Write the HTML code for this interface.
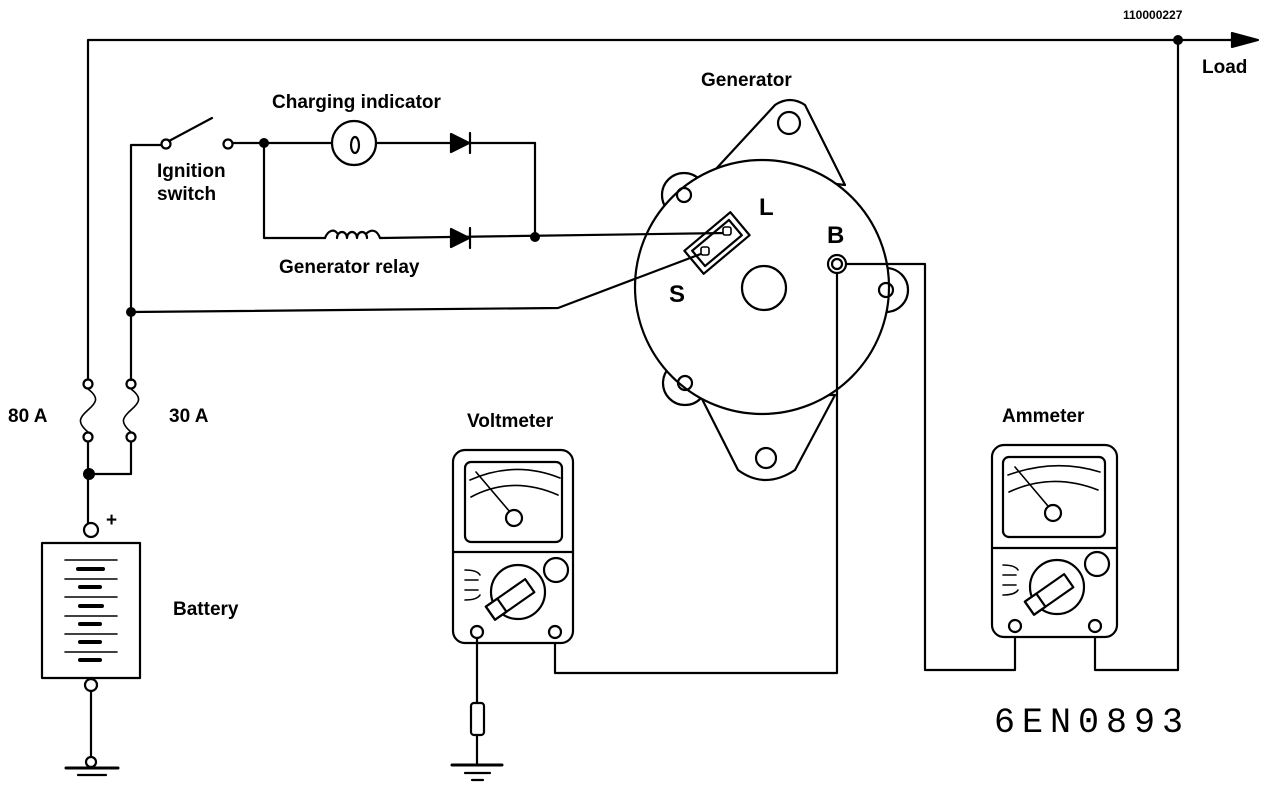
<!DOCTYPE html>
<html><head><meta charset="utf-8"><style>
html,body{margin:0;padding:0;background:#fff}
svg{display:block}
text{font-family:"Liberation Sans",Arial,sans-serif;font-weight:bold;fill:#000}
</style></head><body>
<svg width="1280" height="792" viewBox="0 0 1280 792" xmlns="http://www.w3.org/2000/svg">
<g fill="none" stroke="#000" stroke-width="2.2" stroke-linejoin="round" stroke-linecap="round">
<!-- generator -->
<path d="M715,170 L775,105 Q790,95 805,105 L845,185 Z" fill="#fff"/>
<circle cx="684" cy="195" r="22" fill="#fff"/>
<circle cx="685" cy="383" r="22" fill="#fff"/>
<circle cx="886" cy="290" r="22" fill="#fff"/>
<path d="M700,395 L738,470 Q765,490 795,470 L835,395 Z" fill="#fff"/>
<circle cx="762" cy="287" r="127" fill="#fff" stroke="none"/>
<circle cx="762" cy="287" r="127"/>
<circle cx="789" cy="123" r="11"/>
<circle cx="684" cy="195" r="7"/>
<circle cx="685" cy="383" r="7"/>
<circle cx="886" cy="290" r="7"/>
<circle cx="766" cy="458" r="10"/>
<circle cx="764" cy="288" r="22"/>
<g transform="translate(717,243) rotate(-40)">
<rect x="-30" y="-15" width="60" height="30" fill="#fff"/>
<rect x="-24" y="-10" width="48" height="20"/>
</g>

<!-- top wire -->
<polyline points="88,380 88,40 1240,40"/>
<polygon points="1232,33 1258,40 1232,47" fill="#000"/>
<line x1="1178" y1="40" x2="1178" y2="670"/>
<polyline points="1095,632 1095,670 1178,670"/>
<!-- fuses -->
<circle cx="88" cy="384" r="4.5" fill="#fff"/>
<circle cx="88" cy="437" r="4.5" fill="#fff"/>
<path d="M88,389 C100,398 96,403 88,410 C80,417 76,422 88,432" stroke-width="1.6"/>
<circle cx="131" cy="384" r="4.5" fill="#fff"/>
<circle cx="131" cy="437" r="4.5" fill="#fff"/>
<path d="M131,389 C143,398 139,403 131,410 C123,417 119,422 131,432" stroke-width="1.6"/>
<line x1="88" y1="442" x2="88" y2="525"/>
<polyline points="88,474 131,474 131,442"/>
<!-- switch -->
<polyline points="131,380 131,145 161,145"/>
<circle cx="166" cy="144" r="4.5" fill="#fff"/>
<line x1="169" y1="141" x2="212" y2="118"/>
<circle cx="228" cy="144" r="4.5" fill="#fff"/>
<line x1="233" y1="143" x2="332" y2="143"/>
<circle cx="354" cy="143" r="22" fill="#fff"/>
<ellipse cx="355" cy="145" rx="4" ry="8"/>
<line x1="376" y1="143" x2="535" y2="143"/>
<polygon points="451,134 469,143 451,152" fill="#000"/>
<line x1="470" y1="133" x2="470" y2="153"/>
<polyline points="535,143 535,237"/>
<polyline points="264,143 264,238 325,238"/>
<path d="M325,238 C328,230 334,229 337,233 M337,238 a5,6 0 1 1 10,0 a5,6 0 1 1 10,0 a5,6 0 1 1 10,0 M367,233 C372,229 377,230 380,238"/>
<line x1="380" y1="238" x2="727" y2="233"/>
<polygon points="451,229 469,238 451,247" fill="#000"/>
<line x1="470" y1="228" x2="470" y2="248"/>
<!-- S wire -->
<polyline points="131,312 558,308 706,252"/>
<rect x="723" y="227" width="8" height="8" rx="2" fill="#fff" stroke-width="1.6"/>
<rect x="701" y="247" width="8" height="8" rx="2" fill="#fff" stroke-width="1.6"/>
<polyline points="837,264 837,673 555,673 555,636"/>
<polyline points="841,264 925,264 925,670 1015,670 1015,632"/>
<circle cx="837" cy="264" r="9" fill="#fff"/>
<circle cx="837" cy="264" r="5"/>
<!-- voltmeter -->
<rect x="453" y="450" width="120" height="193" rx="12" fill="#fff"/>
<line x1="453" y1="552" x2="573" y2="552"/>
<rect x="465" y="462" width="97" height="80" rx="6"/>
<path d="M470,480 Q515,460 560,478" stroke-width="1.6"/>
<path d="M471,497 Q512,475 558,495" stroke-width="1.6"/>
<line x1="476" y1="472" x2="510" y2="512" stroke-width="1.6"/>
<circle cx="514" cy="518" r="8" fill="#fff"/>
<circle cx="556" cy="570" r="12"/>
<circle cx="518" cy="592" r="27"/>
<g transform="translate(515,596) rotate(-35)"><rect x="-30" y="-8" width="48" height="16" fill="#fff"/><rect x="-30" y="-8" width="14" height="16"/></g>
<path d="M465,570 q12,0 15,5 M465,580 h13 M465,590 h13 M465,600 q12,0 15,-5" stroke-width="1.6"/>
<circle cx="477" cy="632" r="6" fill="#fff"/>
<circle cx="555" cy="632" r="6" fill="#fff"/>
<line x1="477" y1="638" x2="477" y2="703"/>
<rect x="471" y="703" width="13" height="32" rx="3"/>
<line x1="477" y1="735" x2="477" y2="765"/>
<line x1="452" y1="765" x2="502" y2="765" stroke-width="3"/>
<line x1="465" y1="773" x2="490" y2="773"/>
<line x1="472" y1="780" x2="483" y2="780"/>
<!-- ammeter -->
<rect x="992" y="445" width="125" height="192" rx="12" fill="#fff"/>
<line x1="992" y1="548" x2="1117" y2="548"/>
<rect x="1003" y="457" width="102" height="80" rx="6"/>
<path d="M1008,475 Q1055,458 1100,472" stroke-width="1.6"/>
<path d="M1009,492 Q1052,472 1098,490" stroke-width="1.6"/>
<line x1="1015" y1="467" x2="1048" y2="506" stroke-width="1.6"/>
<circle cx="1053" cy="513" r="8" fill="#fff"/>
<circle cx="1097" cy="564" r="12"/>
<circle cx="1057" cy="587" r="27"/>
<g transform="translate(1054,591) rotate(-35)"><rect x="-30" y="-8" width="48" height="16" fill="#fff"/><rect x="-30" y="-8" width="14" height="16"/></g>
<path d="M1003,565 q12,0 15,5 M1003,575 h13 M1003,585 h13 M1003,595 q12,0 15,-5" stroke-width="1.6"/>
<circle cx="1015" cy="626" r="6" fill="#fff"/>
<circle cx="1095" cy="626" r="6" fill="#fff"/>
<!-- battery -->
<circle cx="91" cy="530" r="7" fill="#fff"/>
<rect x="42" y="543" width="98" height="135" fill="#fff"/>
<g stroke-width="1.6">
<line x1="65" y1="560" x2="117" y2="560"/><line x1="65" y1="579" x2="117" y2="579"/>
<line x1="65" y1="597" x2="117" y2="597"/><line x1="65" y1="616" x2="117" y2="616"/>
<line x1="65" y1="634" x2="117" y2="634"/><line x1="65" y1="652" x2="117" y2="652"/>
</g>
<g stroke-width="4">
<line x1="78" y1="569" x2="103" y2="569"/><line x1="80" y1="587" x2="100" y2="587"/>
<line x1="80" y1="606" x2="102" y2="606"/><line x1="80" y1="624" x2="100" y2="624"/>
<line x1="80" y1="642" x2="100" y2="642"/><line x1="80" y1="660" x2="100" y2="660"/>
</g>
<circle cx="91" cy="685" r="6" fill="#fff"/>
<line x1="91" y1="691" x2="91" y2="757"/>
<circle cx="91" cy="762" r="5" fill="#fff"/>
<line x1="66" y1="768" x2="118" y2="768" stroke-width="3"/>
<line x1="78" y1="775" x2="106" y2="775"/>
</g>
<g fill="#000">
<circle cx="1178" cy="40" r="5"/>
<circle cx="264" cy="143" r="5"/>
<circle cx="535" cy="237" r="5"/>
<circle cx="131" cy="312" r="5"/>
<circle cx="89" cy="474" r="6"/>
</g>
<text x="1123" y="19" font-size="12">110000227</text>
<text x="1202" y="73" font-size="19">Load</text>
<text x="272" y="108" font-size="19">Charging indicator</text>
<text x="157" y="177" font-size="19">Ignition</text>
<text x="157" y="200" font-size="19">switch</text>
<text x="279" y="273" font-size="19">Generator relay</text>
<text x="701" y="86" font-size="19">Generator</text>
<text x="759" y="215" font-size="24">L</text>
<text x="827" y="243" font-size="24">B</text>
<text x="669" y="302" font-size="24">S</text>
<text x="8" y="422" font-size="19">80 A</text>
<text x="169" y="422" font-size="19">30 A</text>
<text x="106" y="526" font-size="19">+</text>
<text x="173" y="615" font-size="19">Battery</text>
<text x="467" y="427" font-size="19">Voltmeter</text>
<text x="1002" y="422" font-size="19">Ammeter</text>
<text x="994" y="732" font-size="35" style="font-weight:normal;font-family:'Liberation Mono',monospace;letter-spacing:7px">6EN0893</text>
</svg>
</body></html>
